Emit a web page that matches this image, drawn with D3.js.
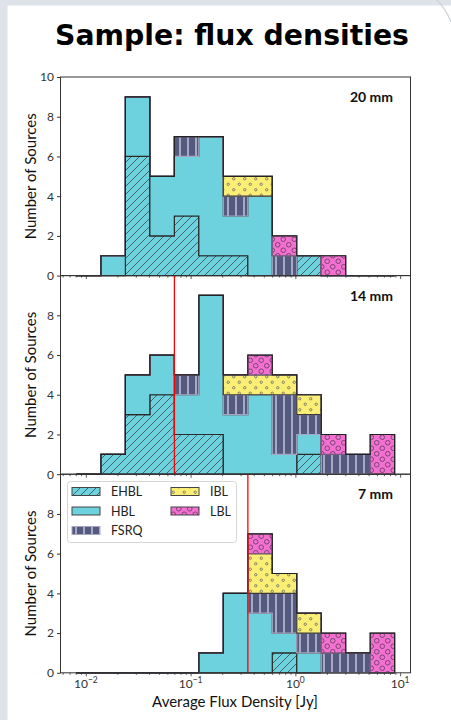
<!DOCTYPE html>
<html>
<head>
<meta charset="utf-8">
<script src="https://cdn.jsdelivr.net/npm/d3@7"></script>
<style>
  html, body { margin: 0; padding: 0; background: #dde3e8; }
  svg { display: block; }
</style>
</head>
<body>
<svg id="chart" width="451" height="720"></svg>
<script>
// Datos
const categorias = ['EHBL', 'HBL', 'FSRQ', 'IBL', 'LBL'];
const paneles = ['20 mm', '14 mm', '7 mm'];

// bordes de los bins (Jy), espaciados en log
const bordes = [0.00813, 0.01393, 0.02384, 0.04083, 0.06996, 0.1198, 0.2051,
                0.3515, 0.6020, 1.031, 1.766, 3.024, 5.179, 8.870];

// cuentas por bin, 20 mm
const ehbl20 = [0, 0, 6, 2, 3, 1, 1, 0, 0, 1, 0, 0, 0];
const hbl20  = [0, 1, 3, 3, 3, 6, 2, 4, 0, 0, 0, 0, 0];
const fsrq20 = [0, 0, 0, 0, 1, 0, 1, 0, 1, 0, 0, 0, 0];
const ibl20  = [0, 0, 0, 0, 0, 0, 1, 1, 0, 0, 0, 0, 0];
const lbl20  = [0, 0, 0, 0, 0, 0, 0, 0, 1, 0, 1, 0, 0];

// 14 mm
const ehbl14 = [0, 1, 3, 4, 2, 2, 0, 0, 0, 1, 0, 0, 0];
const hbl14  = [0, 0, 2, 2, 2, 7, 3, 4, 1, 1, 0, 0, 0];
const fsrq14 = [0, 0, 0, 0, 1, 0, 1, 0, 3, 1, 1, 1, 0];
const ibl14  = [0, 0, 0, 0, 0, 0, 1, 1, 1, 1, 0, 0, 0];
const lbl14  = [0, 0, 0, 0, 0, 0, 0, 1, 0, 0, 1, 0, 2];

// 7 mm
const ehbl7 = [0, 0, 0, 0, 0, 0, 0, 0, 1, 0, 0, 0, 0];
const hbl7  = [0, 0, 0, 0, 0, 1, 4, 3, 1, 1, 0, 0, 0];
const fsrq7 = [0, 0, 0, 0, 0, 0, 0, 1, 2, 1, 1, 1, 0];
const ibl7  = [0, 0, 0, 0, 0, 0, 0, 2, 1, 1, 0, 0, 0];
const lbl7  = [0, 0, 0, 0, 0, 0, 0, 1, 0, 0, 1, 0, 2];

const cuentas = [
    [ehbl20, hbl20, fsrq20, ibl20, lbl20],
    [ehbl14, hbl14, fsrq14, ibl14, lbl14],
    [ehbl7, hbl7, fsrq7, ibl7, lbl7]
];

// lineas rojas (limite de flujo) en 14 y 7 mm
const limites = [null, 0.0700, 0.352];

const ticksMayores = [0.01, 0.1, 1, 10];
const exponentes = ['\u22122', '\u22121', '0', '1'];
const ticksY = [0, 2, 4, 6, 8, 10];

// Estilos
const relleno = { EHBL: '#6dd2dd', HBL: '#6dd2dd', FSRQ: '#545a7f', IBL: '#faee74', LBL: '#f470d0' };
const borde = { EHBL: '#2a2a2a', HBL: '#2a2a2a', FSRQ: '#a6a6c2', IBL: '#3a3a3a', LBL: '#7a5a80' };
const fuente = 'Lato, "Open Sans", sans-serif';

const [w, h] = [451, 720];
const izq = 60.5, der = 410.5;
const arriba = 77, altoPanel = 198.6;

const svg = d3.select('#chart');

// fondo
svg.append('rect').attr('width', w).attr('height', h).attr('fill', '#dde3e8');
svg.append('rect').attr('x', 7.5).attr('y', 5.5).attr('width', w).attr('height', h).attr('fill', '#fff');
svg.append('path').attr('d', 'M437,0 Q446,9 451,22').attr('fill', 'none').attr('stroke', '#ccd4da').attr('stroke-width', 1.2);

// Patrones de relleno (hatch)
const defs = svg.append('defs');

function patron(id, tam, color, dibujar) {
    const p = defs.append('pattern')
        .attr('id', id)
        .attr('patternUnits', 'userSpaceOnUse')
        .attr('width', tam[0])
        .attr('height', tam[1]);
    p.append('rect').attr('width', tam[0]).attr('height', tam[1]).attr('fill', color);
    dibujar(p);
}

patron('pEHBL', [8, 8], relleno.EHBL, p => {
    p.append('path').attr('d', 'M-1,9 L9,-1 M-1,1 L1,-1 M7,9 L9,7')
        .attr('stroke', '#34494d').attr('stroke-width', 0.8);
});
patron('pHBL', [8, 8], relleno.HBL, p => {});
patron('pFSRQ', [8, 10], relleno.FSRQ, p => {
    p.append('line').attr('x1', 4).attr('x2', 4).attr('y1', 0).attr('y2', 10)
        .attr('stroke', '#d4d4e4').attr('stroke-width', 1.3);
});
patron('pIBL', [11, 11], relleno.IBL, p => {
    [[2.75, 2.75], [8.25, 8.25]].forEach(c => {
        p.append('circle').attr('cx', c[0]).attr('cy', c[1]).attr('r', 1.2)
            .attr('fill', 'none').attr('stroke', '#666').attr('stroke-width', 0.8);
    });
});
patron('pLBL', [11, 11], relleno.LBL, p => {
    [[2.75, 2.75], [8.25, 8.25]].forEach(c => {
        p.append('circle').attr('cx', c[0]).attr('cy', c[1]).attr('r', 2.3)
            .attr('fill', 'none').attr('stroke', '#6b4068').attr('stroke-width', 0.9);
    });
});

// Escalas
const xScale = d3.scaleLog()
    .domain([Math.pow(10, -2.242), Math.pow(10, 1.099)])
    .range([izq, der]);

// ticks menores
const ticksMenores = [];
for (let e = -3; e <= 1; e++) {
    for (let m = 2; m <= 9; m++) {
        const v = m * Math.pow(10, e);
        if (v > xScale.domain()[0] && v < xScale.domain()[1]) ticksMenores.push(v);
    }
}

// Titulo
const titulo = svg.append('text')
    .attr('x', 232).attr('y', 45)
    .attr('text-anchor', 'middle')
    .attr('font-family', '"DejaVu Sans", Verdana, sans-serif')
    .attr('font-weight', 'bold')
    .attr('font-size', 28)
    .attr('fill', '#000')
    .text('Sample: flux densities');
const anchoTitulo = titulo.node().getComputedTextLength();
titulo.attr('font-size', 28 * 354 / anchoTitulo);

// Paneles
paneles.forEach((nombre, i) => {
    const top = arriba + i * altoPanel;
    const bottom = top + altoPanel;

    const yScale = d3.scaleLinear().domain([0, 10]).range([bottom, top]);

    const g = svg.append('g');

    // histograma apilado (stepfilled)
    let base = new Array(13).fill(0);
    categorias.forEach((cat, k) => {
        const vals = cuentas[i][k];
        const tope = base.map((b, j) => b + vals[j]);
        const pts = [];
        for (let j = 0; j < 13; j++) {
            pts.push([xScale(bordes[j]), yScale(tope[j])]);
            pts.push([xScale(bordes[j + 1]), yScale(tope[j])]);
        }
        for (let j = 12; j >= 0; j--) {
            pts.push([xScale(bordes[j + 1]), yScale(base[j])]);
            pts.push([xScale(bordes[j]), yScale(base[j])]);
        }
        g.append('path')
            .attr('d', 'M' + pts.map(p => p.join(',')).join('L') + 'Z')
            .attr('fill', 'url(#p' + cat + ')')
            .attr('stroke', borde[cat])
            .attr('stroke-width', 1.2)
            .attr('stroke-linejoin', 'miter');
        base = tope;
    });

    // contorno total
    const linea = [];
    linea.push([xScale(bordes[0]), yScale(0)]);
    for (let j = 0; j < 13; j++) {
        linea.push([xScale(bordes[j]), yScale(base[j])]);
        linea.push([xScale(bordes[j + 1]), yScale(base[j])]);
    }
    linea.push([xScale(bordes[13]), yScale(0)]);
    g.append('path')
        .attr('d', d3.line()(linea))
        .attr('fill', 'none')
        .attr('stroke', '#222')
        .attr('stroke-width', 1.2);

    // linea roja
    if (limites[i] !== null) {
        g.append('line')
            .attr('x1', xScale(limites[i])).attr('x2', xScale(limites[i]))
            .attr('y1', top).attr('y2', bottom)
            .attr('stroke', '#ff0000')
            .attr('stroke-width', 1.3);
    }

    // marco
    svg.append('rect')
        .attr('x', izq).attr('y', top)
        .attr('width', der - izq).attr('height', altoPanel)
        .attr('fill', 'none')
        .attr('stroke', '#333')
        .attr('stroke-width', 1);

    // eje Y
    const ejeY = d3.axisLeft(yScale)
        .tickValues(i === 0 ? ticksY : ticksY.slice(0, 5))
        .tickSize(3.5)
        .tickPadding(3);
    const gy = svg.append('g')
        .attr('transform', 'translate(' + izq + ',0)')
        .call(ejeY);
    gy.select('.domain').remove();
    gy.selectAll('line').attr('stroke', '#333');
    gy.selectAll('text')
        .attr('font-family', fuente)
        .attr('font-size', 12)
        .attr('fill', '#333');

    // eje X
    const gx = svg.append('g').attr('transform', 'translate(0,' + bottom + ')');
    gx.call(d3.axisBottom(xScale).tickValues(ticksMayores).tickSize(3.5).tickFormat(''));
    const gm = svg.append('g').attr('transform', 'translate(0,' + bottom + ')');
    gm.call(d3.axisBottom(xScale).tickValues(ticksMenores).tickSize(2).tickFormat(''));
    [gx, gm].forEach(a => {
        a.select('.domain').remove();
        a.selectAll('line').attr('stroke', '#333').attr('stroke-width', 0.8);
    });

    if (i === paneles.length - 1) {
        ticksMayores.forEach((v, k) => {
            const t = svg.append('text')
                .attr('x', xScale(v))
                .attr('y', bottom + 15.5)
                .attr('text-anchor', 'middle')
                .attr('font-family', fuente)
                .attr('font-size', 12)
                .attr('fill', '#333');
            t.append('tspan').text('10');
            t.append('tspan').attr('dy', -5).attr('font-size', 8.5).text(exponentes[k]);
        });
    }

    // etiqueta Y
    svg.append('text')
        .attr('transform', 'translate(36,' + (top + altoPanel / 2) + ') rotate(-90)')
        .attr('text-anchor', 'middle')
        .attr('font-family', fuente)
        .attr('font-size', 15)
        .attr('fill', '#111')
        .text('Number of Sources');

    // nombre del panel
    svg.append('text')
        .attr('x', 393).attr('y', top + 25)
        .attr('text-anchor', 'end')
        .attr('font-family', fuente)
        .attr('font-weight', 'bold')
        .attr('font-size', 14)
        .attr('fill', '#111')
        .text(nombre);
});

// etiqueta X
svg.append('text')
    .attr('x', 235).attr('y', 707)
    .attr('text-anchor', 'middle')
    .attr('font-family', fuente)
    .attr('font-size', 15)
    .attr('fill', '#111')
    .text('Average Flux Density [Jy]');

// Leyenda
const leyenda = svg.append('g');
leyenda.append('rect')
    .attr('x', 67.5).attr('y', 481.5)
    .attr('width', 169).attr('height', 61)
    .attr('rx', 3)
    .attr('fill', '#fff').attr('fill-opacity', 0.85)
    .attr('stroke', '#d6d6d6');

const posLeyenda = [
    { cat: 'EHBL', x: 72, y: 491.5 },
    { cat: 'HBL', x: 72, y: 511 },
    { cat: 'FSRQ', x: 72, y: 530.5 },
    { cat: 'IBL', x: 171, y: 491.5 },
    { cat: 'LBL', x: 171, y: 511 }
];

posLeyenda.forEach(s => {
    leyenda.append('rect')
        .attr('x', s.x).attr('y', s.y - 4)
        .attr('width', 28).attr('height', 8)
        .attr('fill', 'url(#p' + s.cat + ')')
        .attr('stroke', s.cat === 'FSRQ' ? borde.FSRQ : '#444')
        .attr('stroke-width', 1);
    leyenda.append('text')
        .attr('x', s.x + 39).attr('y', s.y + 4.5)
        .attr('font-family', fuente)
        .attr('font-size', 12.5)
        .attr('fill', '#222')
        .text(s.cat);
});
</script>
</body>
</html>
